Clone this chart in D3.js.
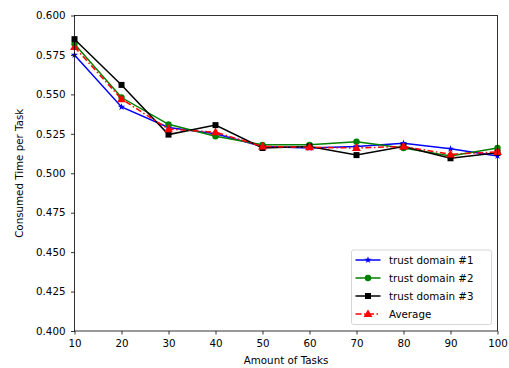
<!DOCTYPE html>
<html><head><meta charset="utf-8">
<script src="https://cdn.jsdelivr.net/npm/d3@7"></script>
<style>body{margin:0;background:#fff}svg{display:block}text{font-family:"DejaVu Sans",sans-serif}</style>
</head><body><svg id="c" width="509" height="368"></svg>
<script>
const tasks = [10,20,30,40,50,60,70,80,90,100];
const domain1 = [0.575,0.542,0.529,0.525,0.517,0.516,0.517,0.519,0.5155,0.511];
const domain2 = [0.582,0.548,0.531,0.5235,0.518,0.518,0.520,0.516,0.511,0.516];
const domain3 = [0.585,0.556,0.5245,0.5305,0.516,0.517,0.5115,0.517,0.5095,0.513];
const average = [0.580,0.547,0.528,0.526,0.517,0.5165,0.516,0.517,0.512,0.5135];
const yTicks = [0.400,0.425,0.450,0.475,0.500,0.525,0.550,0.575,0.600];
const xTicks = [10,20,30,40,50,60,70,80,90,100];
const labels = ["trust domain #1","trust domain #2","trust domain #3","Average"];

const svg = d3.select("#c");
const L=74.5,R=497.5,T=15.5,B=331;
const FS = 10.3;
const x = d3.scaleLinear().domain([10,100]).range([L,R]);
const y = d3.scaleLinear().domain([0.4,0.6]).range([B,T]);

svg.append("g").attr("transform",`translate(0,${B})`)
  .call(d3.axisBottom(x).tickValues(xTicks).tickSize(3.5).tickPadding(5).tickFormat(d3.format("d")))
  .call(g=>{g.select(".domain").remove();g.selectAll("text").attr("font-size",FS).attr("fill","#000");g.selectAll("line").attr("stroke","#000").attr("stroke-width",0.8);});
svg.append("g").attr("transform",`translate(${L},0)`)
  .call(d3.axisLeft(y).tickValues(yTicks).tickSize(3.5).tickPadding(5.5).tickFormat(d3.format(".3f")))
  .call(g=>{g.select(".domain").remove();g.selectAll("text").attr("font-size",FS).attr("fill","#000");g.selectAll("line").attr("stroke","#000").attr("stroke-width",0.8);});

const series = [
  {v:domain1,c:"#0000ff",m:"star",dash:null},
  {v:domain2,c:"#008000",m:"circle",dash:null},
  {v:domain3,c:"#000000",m:"square",dash:null},
  {v:average,c:"#ff0000",m:"triangle",dash:"6,2.5,1.5,2.5"}
];
const line = d3.line().x((d,i)=>x(tasks[i])).y(d=>y(d));
function marker(g,type,cx,cy,c){
  if(type==="circle") g.append("circle").attr("cx",cx).attr("cy",cy).attr("r",3.2).attr("fill",c);
  else if(type==="square") g.append("rect").attr("x",cx-3).attr("y",cy-3).attr("width",6).attr("height",6).attr("fill",c);
  else if(type==="triangle") g.append("path").attr("d",d3.symbol(d3.symbolTriangle,34)()).attr("transform",`translate(${cx},${cy+0.5})`).attr("fill",c);
  else g.append("path").attr("d",d3.symbol(d3.symbolStar,16)()).attr("transform",`translate(${cx},${cy})`).attr("fill",c);
}
const pg = svg.append("g");
series.forEach(s=>{
  const g = pg.append("g");
  g.append("path").datum(s.v).attr("d",line).attr("fill","none").attr("stroke",s.c).attr("stroke-width",1.5)
    .attr("stroke-dasharray",s.dash);
  s.v.forEach((d,i)=>marker(g,s.m,x(tasks[i]),y(d),s.c));
});

svg.append("rect").attr("x",L).attr("y",T).attr("width",R-L).attr("height",B-T).attr("fill","none").attr("stroke","#000").attr("stroke-width",0.8);

svg.append("text").attr("x",(L+R)/2).attr("y",364).attr("text-anchor","middle").attr("font-size",FS).text("Amount of Tasks");
svg.append("text").attr("transform",`translate(23,${(T+B)/2}) rotate(-90)`).attr("text-anchor","middle").attr("font-size",FS).text("Consumed Time per Task");

const lg = svg.append("g");
lg.append("rect").attr("x",351.5).attr("y",250).attr("width",140).attr("height",74.5).attr("rx",2).attr("fill","#fff").attr("fill-opacity",0.8).attr("stroke","#ccc").attr("stroke-width",0.8);
series.forEach((s,i)=>{
  const yy = 260+i*18;
  lg.append("line").attr("x1",355.5).attr("x2",380.5).attr("y1",yy).attr("y2",yy).attr("stroke",s.c).attr("stroke-width",1.5).attr("stroke-dasharray",s.dash?"6,2.5,1.5,2.5":null);
  marker(lg,s.m,368,yy,s.c);
  lg.append("text").attr("x",389).attr("y",yy+3.7).attr("font-size",FS).text(labels[i]);
});
</script></body></html>
